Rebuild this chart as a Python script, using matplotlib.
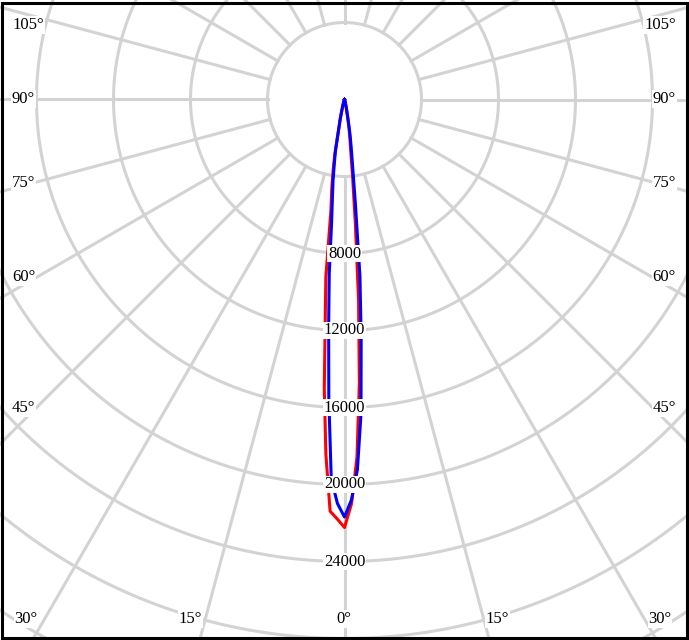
import numpy as np
import matplotlib
matplotlib.use('Agg')
import matplotlib.pyplot as plt
from matplotlib.patches import Rectangle

plt.rcParams['font.family'] = ['Liberation Serif', 'DejaVu Sans']

# gamma angles (deg from nadir) and intensities (cd)
angles = [0, 1, 2, 3, 4, 5, 6, 7, 8, 9, 10, 12.5, 15, 20, 25, 30, 40, 50, 60, 70, 80, 90]

# red plane, left half and right half
red_left = [22235, 21790, 21400, 18470, 15060, 11485, 9275, 5775, 4800, 3860, 2950,
            1000, 400, 100, 40, 20, 10, 0, 0, 0, 0, 0]
red_right = [22235, 20990, 18590, 14745, 10485, 6490, 4010, 2600, 2000, 1500, 1000,
             400, 150, 50, 20, 10, 5, 0, 0, 0, 0, 0]

# blue plane
blue_left = [21690, 20990, 19720, 15580, 11790, 9100, 6410, 5160, 4276, 3393, 2700,
             1000, 400, 100, 40, 20, 10, 0, 0, 0, 0, 0]
blue_right = [21690, 20795, 19240, 16370, 12405, 9205, 5348, 3400, 2500, 1800, 1100,
              400, 150, 50, 20, 10, 5, 0, 0, 0, 0, 0]

rings = [4000, 8000, 12000, 16000, 20000, 24000, 28000, 32000, 36000]
ring_labels = [8000, 12000, 16000, 20000, 24000]
spokes = list(range(0, 360, 15))
side_labels = ['105°', '90°', '75°', '60°', '45°']
bottom_labels = ['30°', '15°', '0°', '15°', '30°']

W, H = 689, 640
fig = plt.figure(figsize=(W/100, H/100), dpi=100)

# centre of the diagram in pixels, 77 px per 4000 cd
cx, cy = 344.5, H - 99.5
r_max = 36000
rad_px = r_max * 77 / 4000
ax = fig.add_axes([(cx - rad_px)/W, (cy - rad_px)/H, 2*rad_px/W, 2*rad_px/H], projection='polar')
ax.set_theta_zero_location('S')
ax.set_ylim(0, r_max)
ax.grid(False)
ax.set_xticks([])
ax.set_yticks([])
ax.spines['polar'].set_visible(False)

grid_col = '#d3d3d3'
th = np.linspace(0, 2*np.pi, 721)
for r in rings:
    ax.plot(th, np.full_like(th, r), color=grid_col, lw=2.2, zorder=1)
for a in spokes:
    ax.plot([np.radians(a)]*2, [rings[0], r_max], color=grid_col, lw=2.2, zorder=1)

def whole_curve(left, right):
    a = np.radians(angles)
    theta = np.concatenate([-a[::-1], a[1:]])
    r = np.concatenate([np.array(left)[::-1], np.array(right)[1:]])
    return theta, r

t, r = whole_curve(red_left, red_right)
ax.plot(t, r, color='#ff0000', lw=2.2, zorder=2)
t, r = whole_curve(blue_left, blue_right)
ax.plot(t, r, color='#0000ff', lw=2.2, zorder=3)

for v in ring_labels:
    ax.text(0, v, str(v), ha='center', va='center', fontsize=12, zorder=5,
            bbox=dict(fc='white', ec='none', pad=0.6))

# angle labels along the frame
side_y = [25, 99, 183, 277, 408]
for lab, y in zip(side_labels, side_y):
    fig.text(12/W, 1 - y/H, lab, ha='left', va='center', fontsize=12,
             bbox=dict(fc='white', ec='none', pad=0.6))
    fig.text(676/W, 1 - y/H, lab, ha='right', va='center', fontsize=12,
             bbox=dict(fc='white', ec='none', pad=0.6))
bottom_x = [26, 190.5, 344, 497.6, 660]
for lab, x in zip(bottom_labels, bottom_x):
    fig.text(x/W, 1 - 619/H, lab, ha='center', va='center', fontsize=12,
             bbox=dict(fc='white', ec='none', pad=0.6))

fig.patches.append(Rectangle((1.5/W, 2.5/H), 685/W, 635/H, transform=fig.transFigure,
                             fill=False, ec='black', lw=2.2))

fig.savefig('out.png', dpi=100)
